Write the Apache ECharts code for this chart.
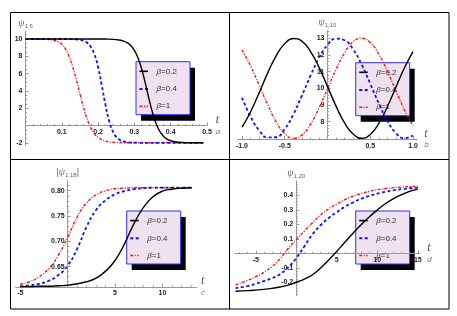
<!DOCTYPE html>
<html><head><meta charset="utf-8">
<script src="https://cdn.jsdelivr.net/npm/echarts@6/dist/echarts.min.js"></script>
<style>html,body{margin:0;padding:0;background:#fff}#c{width:457px;height:316px}</style>
</head><body><div id="c"></div>
<script>
// ---------- data ----------
const seriesNames = ['β=0.2', 'β=0.4', 'β=1'];
const legendVals = ['0.2', '0.4', '1'];

// panel a
const tA = [0, 0.05, 0.08, 0.09, 0.10, 0.11, 0.12, 0.13, 0.14, 0.15, 0.16, 0.17, 0.18, 0.19, 0.20,
  0.21, 0.22, 0.23, 0.24, 0.25, 0.26, 0.27, 0.28, 0.29, 0.30, 0.31, 0.32, 0.33, 0.34, 0.35,
  0.36, 0.37, 0.38, 0.39, 0.40, 0.42, 0.45, 0.49];
const aBlack = [10, 10, 10, 10, 10, 10, 10, 10, 10, 10, 10, 10, 10, 10, 10,
  9.99, 9.99, 9.98, 9.96, 9.93, 9.87, 9.76, 9.57, 9.25, 8.69, 7.81, 6.53, 4.89, 3.11, 1.47,
  0.19, -0.69, -1.25, -1.57, -1.76, -1.93, -1.99, -2.0];
const aBlue = [10, 10, 10, 10, 10, 10, 9.99, 9.98, 9.95, 9.9, 9.79, 9.56, 9.09, 8.22, 6.74,
  4.68, 2.44, 0.59, -0.63, -1.32, -1.67, -1.84, -1.93, -1.97, -1.98, -1.99, -2, -2, -2, -2,
  -2, -2, -2, -2, -2, -2, -2, -2];
const aRed = [10, 9.98, 9.83, 9.68, 9.40, 8.85, 7.98, 6.80, 5.32, 3.66, 2.06, 0.71, -0.28, -0.96, -1.38,
  -1.62, -1.79, -1.88, -1.93, -1.96, -1.98, -1.99, -2, -2, -2, -2, -2, -2, -2, -2,
  -2, -2, -2, -2, -2, -2, -2, -2];
const aXTicks = [0.1, 0.2, 0.3, 0.4, 0.5];
const aYTicks = [-2, 2, 4, 6, 8, 10];

// panel b
const tB = [-1, -0.9, -0.8, -0.7, -0.6, -0.5, -0.4, -0.3, -0.2, -0.1, 0, 0.1, 0.2, 0.3, 0.4, 0.5, 0.6, 0.7, 0.8, 0.9, 1];
const bBlack = [7.67, 8.58, 9.72, 10.91, 11.95, 12.68, 12.99, 12.83, 12.22, 11.27, 10.10, 8.93, 7.92, 7.25, 7.00, 7.23, 7.89, 8.89, 10.07, 11.23, 12.20];
const bBlue = [9.43, 8.31, 7.48, 7.05, 7.07, 7.56, 8.43, 9.55, 10.74, 11.82, 12.60, 12.98, 12.88, 12.33, 11.41, 10.27, 9.09, 8.05, 7.31, 7.01, 7.17];
const bRed = [12.29, 11.35, 10.20, 9.02, 7.99, 7.28, 7.00, 7.19, 7.83, 8.81, 9.97, 11.14, 12.13, 12.79, 13.00, 12.74, 12.05, 11.03, 9.85, 8.70, 7.75];
const bXTicks = [-1, -0.5, 0.5, 1];
const bYTicks = [8, 9, 10, 11, 12, 13];

// panel c
const tC = [-5, -4, -3, -2, -1, 0, 1, 2, 3, 4, 5, 6, 7, 8, 9, 10, 11, 12, 13.1];
const cBlack = [0.610, 0.610, 0.611, 0.611, 0.612, 0.613, 0.616, 0.620, 0.627, 0.641, 0.662, 0.695, 0.735, 0.767, 0.788, 0.799, 0.803, 0.805, 0.806];
const cBlue = [0.611, 0.613, 0.616, 0.622, 0.633, 0.652, 0.685, 0.729, 0.762, 0.781, 0.793, 0.799, 0.803, 0.805, 0.806, 0.806, 0.806, 0.806, 0.806];
const cRed = [0.615, 0.620, 0.630, 0.646, 0.672, 0.708, 0.748, 0.776, 0.792, 0.800, 0.804, 0.805, 0.806, 0.806, 0.806, 0.806, 0.806, 0.806, 0.806];
const cXTicks = [-5, 5, 10];
const cYTicks = [0.65, 0.70, 0.75, 0.80];

// panel d
const tD = [-7.5, -6, -5, -4, -3, -2, -1, 0, 1, 2, 3, 4, 5, 6, 7, 8, 9, 10, 11, 12, 13, 14, 15];
const dBlack = [-0.26, -0.256, -0.252, -0.247, -0.240, -0.231, -0.218, -0.198, -0.176, -0.146, -0.100, -0.045, 0.015, 0.078, 0.140, 0.198, 0.252, 0.300, 0.343, 0.378, 0.406, 0.428, 0.444];
const dBlue = [-0.238, -0.224, -0.208, -0.190, -0.170, -0.142, -0.095, -0.032, 0.050, 0.132, 0.195, 0.245, 0.285, 0.322, 0.352, 0.377, 0.397, 0.413, 0.426, 0.436, 0.444, 0.450, 0.455];
const dRed = [-0.216, -0.185, -0.160, -0.130, -0.090, -0.035, 0.035, 0.096, 0.155, 0.212, 0.266, 0.308, 0.342, 0.371, 0.395, 0.413, 0.428, 0.440, 0.448, 0.454, 0.458, 0.462, 0.465];
const dXTicks = [-5, 5, 10, 15];
const dYTicks = [-0.2, -0.1, 0.1, 0.2, 0.3, 0.4];

// ---------- styles ----------
const lineStyles = [
  { color: '#000000', width: 1.4, type: 'solid', dash: null },
  { color: '#1010ff', width: 1.8, type: [3, 2.5], dash: [3, 2.5] },
  { color: '#ff1010', width: 1.4, type: [3, 1.5, 1, 1.5], dash: [3, 1.5, 1, 1.5] }
];
const AX = '#999999';
const LBL = { fontSize: 7, fontWeight: 'bold', color: '#222', fontFamily: 'Liberation Sans', margin: 3 };

function pairs(t, v) { return t.map((x, i) => [x, v[i]]); }

const grids = [
  { left: 25.5, top: 31.2, width: 181.5, height: 114.2 },
  { left: 237.7, top: 30.8, width: 179.6, height: 108.3 },
  { left: 15.6, top: 180.6, width: 180.9, height: 106.2 },
  { left: 234.7, top: 181, width: 185.5, height: 114.6 }
];
const xRanges = [[0, 0.5], [-1.05, 1.05], [-5.5, 13.6], [-7.6, 15.3]];
const yRanges = [[-2.3, 10.9], [6.95, 13.45], [0.61, 0.82], [-0.29, 0.5]];

// offset of an axis so that it crosses the other axis at zero (when zero is in range)
function zeroOffset(range, size) {
  if (range[0] < 0 && range[1] > 0) return -((0 - range[0]) / (range[1] - range[0])) * size;
  return 0;
}

function xAx(gi, ticks, fmt, sub, gap, minorN, splitN) {
  const r = xRanges[gi];
  return {
    type: 'value', gridIndex: gi, min: r[0], max: r[1], position: 'bottom', splitNumber: splitN,
    offset: zeroOffset(yRanges[gi], grids[gi].height),
    axisLine: { show: true, onZero: false, lineStyle: { color: AX, width: 1 } },
    axisTick: { show: true, inside: true, length: 3, customValues: ticks, lineStyle: { color: AX } },
    minorTick: { show: true, splitNumber: minorN, length: 1.5, lineStyle: { color: AX } },
    splitLine: { show: false }, minorSplitLine: { show: false },
    axisLabel: Object.assign({ customValues: ticks, formatter: fmt }, LBL),
    name: '{t|t}\n{l|' + sub + '}', nameLocation: 'end', nameGap: gap,
    nameTextStyle: {
      rich: {
        t: { fontSize: 12, fontStyle: 'italic', fontFamily: 'Liberation Serif', color: '#555', lineHeight: 12 },
        l: { fontSize: 8, fontStyle: 'italic', fontFamily: 'Liberation Sans', color: '#777', lineHeight: 11 }
      }
    }
  };
}
function yAx(gi, ticks, fmt, name, minorN, splitN) {
  const r = yRanges[gi];
  return {
    type: 'value', gridIndex: gi, min: r[0], max: r[1], position: 'left', splitNumber: splitN,
    offset: zeroOffset(xRanges[gi], grids[gi].width),
    axisLine: { show: true, onZero: false, lineStyle: { color: AX, width: 1 } },
    axisTick: { show: true, inside: true, length: 3, customValues: ticks, lineStyle: { color: AX } },
    minorTick: { show: true, splitNumber: minorN, length: 1.5, lineStyle: { color: AX } },
    splitLine: { show: false }, minorSplitLine: { show: false },
    axisLabel: Object.assign({ customValues: ticks, formatter: fmt }, LBL),
    name: name, nameLocation: 'end', nameGap: 2,
    nameTextStyle: {
      color: '#666', fontSize: 9, fontFamily: 'Liberation Sans',
      rich: {
        p: { fontSize: 10, fontStyle: 'italic', fontFamily: 'Liberation Serif', color: '#666', lineHeight: 12 },
        s: { fontSize: 6, color: '#666', fontFamily: 'Liberation Sans', lineHeight: 12, verticalAlign: 'bottom' },
        b: { fontSize: 9, color: '#666', fontFamily: 'Liberation Sans', lineHeight: 12 }
      }
    }
  };
}

const f1 = v => v.toFixed(1);
const f2 = v => v.toFixed(2);
const f0 = v => String(v);

const xAxes = [
  xAx(0, aXTicks, f1, 'a', 7.5, 5, 5),
  xAx(1, bXTicks, f1, 'b', 7, 5, 5),
  xAx(2, cXTicks, f0, 'c', 4.5, 5, 4),
  xAx(3, dXTicks, f0, 'd', 7, 5, 5)
];
const yAxes = [
  yAx(0, aYTicks, f0, '{p|ψ}{s|1,6}', 4, 7),
  yAx(1, bYTicks, f0, '{p|ψ}{s|1,10}', 5, 5),
  yAx(2, cYTicks, f2, '{b||}{p|ψ}{s|1,18}{b||}', 5, 5),
  yAx(3, dYTicks, f1, '{p|ψ}{s|1,20}', 5, 8)
];

const panelData = [
  [tA, [aBlack, aBlue, aRed]],
  [tB, [bBlack, bBlue, bRed]],
  [tC, [cBlack, cBlue, cRed]],
  [tD, [dBlack, dBlue, dRed]]
];

const series = [];
panelData.forEach((pd, gi) => {
  pd[1].forEach((vals, si) => {
    const ls = lineStyles[si];
    series.push({
      type: 'line', name: seriesNames[si], xAxisIndex: gi, yAxisIndex: gi,
      data: pairs(pd[0], vals), smooth: true, showSymbol: false, symbol: 'none',
      lineStyle: { color: ls.color, width: ls.width, type: ls.type },
      itemStyle: { color: ls.color }, z: 3 - si + 2
    });
  });
});

function legendGroup(bx, by) {
  const rows = [9.6, 27.3, 44.5];
  const ch = [
    { type: 'rect', shape: { x: 5, y: 6, width: 54, height: 53 }, style: { fill: '#000' } },
    { type: 'rect', shape: { x: 0, y: 0, width: 54, height: 53 }, style: { fill: '#efe1ef', stroke: '#2f2fff', lineWidth: 1 } }
  ];
  lineStyles.forEach((s, i) => {
    ch.push({ type: 'line', shape: { x1: 3.5, y1: rows[i], x2: 12, y2: rows[i] },
      style: { stroke: s.color, lineWidth: s.width + 0.2, lineDash: s.dash } });
    ch.push({ type: 'text', x: 20.5, y: rows[i],
      style: { text: '{b|β}=' + legendVals[i], fill: '#333', fontSize: 8, fontFamily: 'Liberation Sans', verticalAlign: 'middle',
        rich: { b: { fontStyle: 'italic', fontSize: 8, fontFamily: 'Liberation Sans', fill: '#333' } } } });
  });
  return { type: 'group', x: bx, y: by, z: 100, children: ch };
}

const frame = [
  { type: 'rect', z: 90, shape: { x: 10.5, y: 12.5, width: 438.5, height: 296.5 }, style: { fill: null, stroke: '#000', lineWidth: 1 } },
  { type: 'line', z: 90, shape: { x1: 229.5, y1: 12.5, x2: 229.5, y2: 309 }, style: { stroke: '#000', lineWidth: 1 } },
  { type: 'line', z: 90, shape: { x1: 10.5, y1: 159.5, x2: 449, y2: 159.5 }, style: { stroke: '#000', lineWidth: 1 } }
];

const chart = echarts.init(document.getElementById('c'));
chart.setOption({
  animation: false,
  backgroundColor: '#ffffff',
  grid: grids,
  xAxis: xAxes,
  yAxis: yAxes,
  series: series,
  graphic: frame.concat([
    legendGroup(136, 61.7),
    legendGroup(355.7, 62.7),
    legendGroup(126.7, 211),
    legendGroup(355.7, 211)
  ])
});
</script>
</body></html>
